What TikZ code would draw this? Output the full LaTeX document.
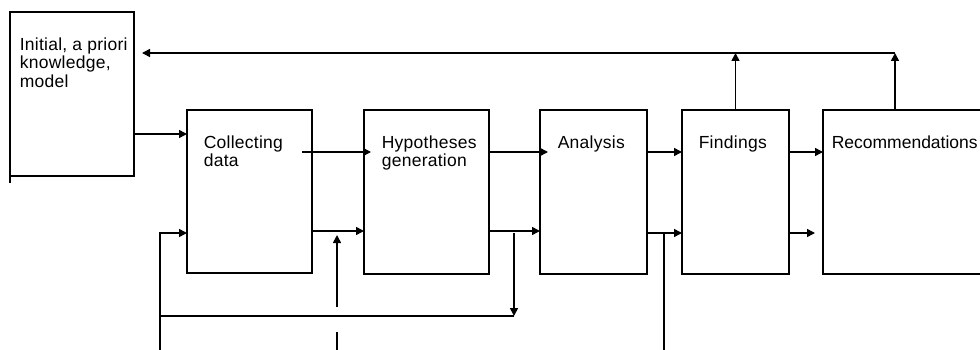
\documentclass[tikz,border=0pt]{standalone}
\usepackage{fontspec}
\setmainfont{Liberation Sans}[LetterSpace=1.5]
\usetikzlibrary{arrows.meta,calc}

\begin{document}
\begin{tikzpicture}[
  x=1pt,y=-1pt,
  line width=1.6pt,
  box/.style={draw,line width=1.8pt,inner sep=0pt,outer sep=0pt,anchor=north west,minimum height=164pt},
  txt/.style={anchor=north west,inner sep=0pt,align=left,font=\fontsize{17.5}{18.5}\selectfont},
  ar/.style={-{Triangle[length=8pt,width=8pt]}}
]
\useasboundingbox (0,0) rectangle (980,350);
\clip (0,0) rectangle (980,350);
\node[box,minimum width=124pt] (init) at (10,12)  {};
\node[box,minimum width=125pt,minimum height=163pt] (coll) at (187,110) {};
\node[box,minimum width=125pt] (hyp)  at (364,110) {};
\node[box,minimum width=107pt] (ana)  at (540,110) {};
\node[box,minimum width=107pt] (fnd)  at (682,110) {};
\node[box,minimum width=200pt] (rec)  at (823,110) {};
\node[txt] (init-t) at ($(init.north west)+(9,25)$) {Initial, a priori\\knowledge,\\model};
\node[txt] (coll-t) at ($(coll.north west)+(16,25)$) {Collecting\\data};
\node[txt] (hyp-t)  at ($(hyp.north west)+(17,25)$)  {Hypotheses\\generation};
\node[txt] (ana-t)  at ($(ana.north west)+(17,25)$)  {Analysis};
\node[txt] (fnd-t)  at ($(fnd.north west)+(16,25)$)  {Findings};
\node[txt] (rec-t)  at ($(rec.north west)+(8,25)$)  {\addfontfeature{LetterSpace=0}Recommendations};
\coordinate (rowF) at (0,53);
\coordinate (rowI) at (0,134);
\coordinate (rowT) at (0,152);
\coordinate (rowL) at (0,231);
\coordinate (rowM) at (0,233);
\coordinate (loopY) at (0,316);
\coordinate (inL) at (160,350);
\coordinate (inM) at (337,350);
\coordinate (inR) at (664,350);
\coordinate (tap) at ($(hyp.east |- rowM)+(25,0)$);
\coordinate (recUp) at ($(rec.north west)+(72,0)$);
\draw (init.south west) -- ++(0,7);
\draw[ar] (init.east |- rowI) -- (coll.west |- rowI);
\draw[ar] ($(coll.east |- rowT)+(-10,0)$) -- ($(hyp.west |- rowT)+(7,0)$);
\draw[ar] (hyp.east |- rowT) -- ($(ana.west |- rowT)+(8,0)$);
\draw[ar] (ana.east |- rowT) -- (fnd.west |- rowT);
\draw[ar] (fnd.east |- rowT) -- (rec.west |- rowT);
\draw[ar] (coll.east |- rowL) -- (hyp.west |- rowL);
\draw[ar] (hyp.east |- rowL) -- (ana.west |- rowL);
\draw[ar] (ana.east |- rowM) -- (fnd.west |- rowM);
\draw[ar] (fnd.east |- rowM) -- ($(rec.west |- rowM)+(-8,0)$);
\draw[ar] (inL) |- (coll.west |- rowM);
\draw[ar] (tap) -- (tap |- loopY);
\draw (tap |- loopY) -- (inL |- loopY);
\draw[ar] ($(inM)+(0,-43)$) -- ($(inM |- rowL)+(0,4)$);
\draw (inM) -- ++(0,-18);
\draw (inR) -- (inR |- rowM);
\draw[ar] (fnd.north) -- (fnd.north |- rowF);
\draw[ar] (recUp) -- (recUp |- rowF);
\draw[ar] (recUp |- rowF) -- ($(init.east |- rowF)+(8,0)$);
\end{tikzpicture}
\end{document}
